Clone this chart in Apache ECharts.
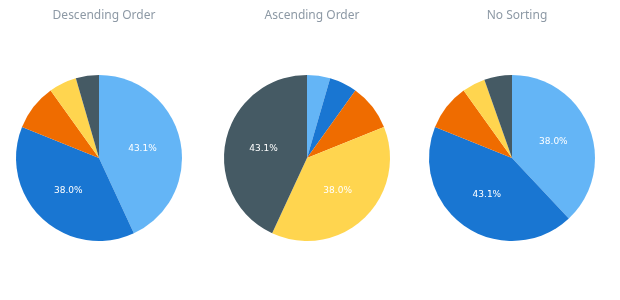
<!DOCTYPE html>
<html>
<head>
<meta charset="utf-8">
<script src="https://cdn.jsdelivr.net/npm/echarts@6/dist/echarts.min.js"></script>
<style>
  html, body { margin: 0; padding: 0; background: #fff; }
  #chart { width: 620px; height: 300px; }
</style>
</head>
<body>
<div id="chart"></div>
<script>
  // slice values in original (unsorted) order, percent
  var values = [38.0, 43.1, 9.0, 4.5, 5.4];
  var names = ['A', 'B', 'C', 'D', 'E'];
  var titles = ['Descending Order', 'Ascending Order', 'No Sorting'];
  var sortModes = ['desc', 'asc', 'none'];
  // colours go by slice position, not by name
  var palette = ['#64b5f6', '#1976d2', '#ef6c00', '#ffd54f', '#455a64'];

  var pieX = [99, 307, 512];

  function buildData(mode) {
    var items = values.map(function (v, i) { return { name: names[i], value: v }; });
    if (mode === 'desc') items.sort(function (a, b) { return b.value - a.value; });
    if (mode === 'asc') items.sort(function (a, b) { return a.value - b.value; });
    return items.map(function (d, k) {
      d.itemStyle = { color: palette[k] };
      return d;
    });
  }

  var chart = echarts.init(document.getElementById('chart'));

  var option = {
    backgroundColor: '#fff',
    animation: false,
    title: titles.map(function (t, i) {
      return {
        text: t,
        left: pieX[i],
        top: 5,
        textAlign: 'center',
        textStyle: { color: '#8d99a5', fontSize: 12, fontWeight: 'normal', fontFamily: 'Noto Sans' }
      };
    }),
    series: sortModes.map(function (m, i) {
      return {
        type: 'pie',
        center: [pieX[i], 158],
        radius: 83,
        startAngle: 90,
        clockwise: true,
        data: buildData(m),
        label: {
          position: 'inside',
          color: '#fff',
          fontSize: 9,
          fontFamily: 'DejaVu Sans',
          formatter: function (p) {
            return p.value > 10 ? p.value.toFixed(1) + '%' : '';
          }
        },
        labelLine: { show: false },
        itemStyle: { borderWidth: 0 },
        emphasis: { disabled: true }
      };
    })
  };

  chart.setOption(option);
</script>
</body>
</html>
